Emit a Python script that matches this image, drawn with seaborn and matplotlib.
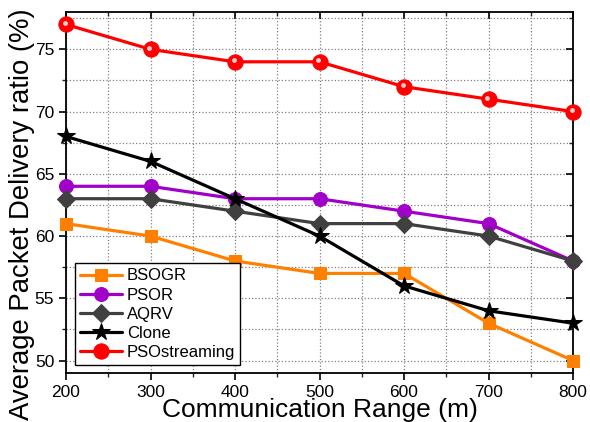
import matplotlib
matplotlib.use("Agg")
import matplotlib.pyplot as plt
import matplotlib.transforms as mtransforms
from matplotlib.ticker import MultipleLocator
import pandas as pd
import seaborn as sns

comm_range = [200, 300, 400, 500, 600, 700, 800]
bsogr = [61, 60, 58, 57, 57, 53, 50]
psor = [64, 64, 63, 63, 62, 61, 58]
aqrv = [63, 63, 62, 61, 61, 60, 58]
clone = [68, 66, 63, 60, 56, 54, 53]
psostreaming = [77, 75, 74, 74, 72, 71, 70]

series_names = ["BSOGR", "PSOR", "AQRV", "Clone", "PSOstreaming"]
series_values = [bsogr, psor, aqrv, clone, psostreaming]
colors = ["#FF8000", "#A000C8", "#404040", "#000000", "#FF0000"]
markers = ["s", "o", "D", "*", "o"]
marker_sizes = [9, 10, 9, 13, 11]

sns.set_theme(style="ticks")
plt.rcParams["font.family"] = ["Liberation Sans", "DejaVu Sans"]
plt.rcParams["text.color"] = "black"
plt.rcParams["axes.labelcolor"] = "black"

rows = []
for name, vals in zip(series_names, series_values):
    for x, y in zip(comm_range, vals):
        rows.append({"range": x, "ratio": y, "method": name})
df = pd.DataFrame(rows)

fig = plt.figure(figsize=(5.9, 4.22), dpi=100)
ax = fig.add_axes([66 / 590, 1 - 373 / 422, 507 / 590, 361 / 422])

handles = []
for name, col, mk, ms in zip(series_names, colors, markers, marker_sizes):
    sub = df[df["method"] == name]
    sns.lineplot(data=sub, x="range", y="ratio", ax=ax, color=col,
                 marker=mk, markersize=ms, markeredgecolor=col,
                 linewidth=2.3, clip_on=False, legend=False, zorder=3)
    handles.append(ax.lines[-1])

# glossy highlight on the streaming markers
hl = mtransforms.offset_copy(ax.transData, fig=fig, x=-1.5, y=1.5, units="dots")
sub = df[df["method"] == "PSOstreaming"]
ax.plot(sub["range"], sub["ratio"], linestyle="none", marker="o",
        markersize=3.5, color="#FFE0E0", markeredgewidth=0, alpha=0.9,
        transform=hl, clip_on=False, zorder=4)

ax.set_xlim(200, 800)
ax.set_ylim(49, 78)
ax.xaxis.set_major_locator(MultipleLocator(100))
ax.xaxis.set_minor_locator(MultipleLocator(50))
ax.yaxis.set_major_locator(MultipleLocator(5))
ax.yaxis.set_minor_locator(MultipleLocator(2.5))

ax.grid(which="both", linestyle=":", color="#808080", linewidth=0.9)
ax.set_axisbelow(True)

for sp in ax.spines.values():
    sp.set_visible(True)
    sp.set_color("black")
    sp.set_linewidth(1.3)

ax.tick_params(axis="both", which="major", labelsize=12.5, direction="out",
               length=5, width=1.2, colors="black", top=True, right=True)
ax.tick_params(axis="both", which="minor", direction="out", length=3,
               width=1.0, top=True, right=True)
for t in ax.xaxis.get_ticklines(minor=False)[1::2] + ax.xaxis.get_ticklines(minor=True)[1::2]:
    t.set_marker(3)
for t in ax.yaxis.get_ticklines(minor=False)[1::2] + ax.yaxis.get_ticklines(minor=True)[1::2]:
    t.set_marker(0)

ax.set_xlabel("Communication Range (m)", fontsize=19, labelpad=-1, color="black")
ax.set_ylabel("Average Packet Delivery ratio (%)", fontsize=19.8, color="black")
ax.yaxis.set_label_coords(-0.062, 0.44)

leg = ax.legend(handles, series_names, loc="lower left",
                bbox_to_anchor=(0.018, 0.022), fontsize=12, frameon=True,
                fancybox=False, edgecolor="black", framealpha=1,
                handlelength=2.5, handletextpad=0.3, labelspacing=0.25,
                borderpad=0.3, borderaxespad=0)
leg.get_frame().set_linewidth(1.0)
for txt in leg.get_texts():
    txt.set_color("black")

fig.savefig("out.png", dpi=100)
